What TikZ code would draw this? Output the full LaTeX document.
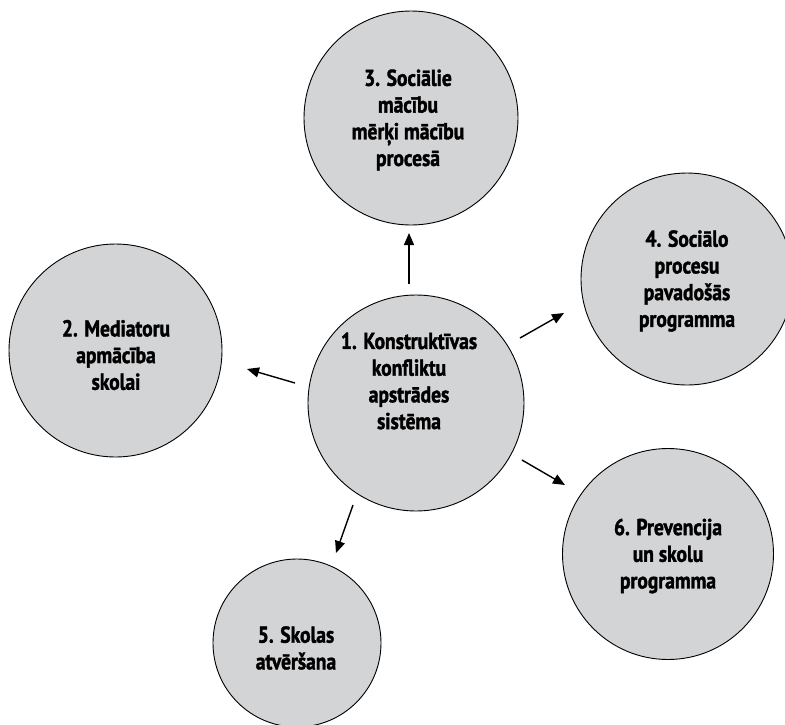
\documentclass[tikz,border=0pt]{standalone}
\usepackage{fontspec}
\newfontfamily\lblfont{PT Sans Bold}[FakeStretch=0.85, FakeBold=1.6]
\usetikzlibrary{arrows.meta}
\definecolor{discfill}{RGB}{211,212,214}
\tikzset{
  disc/.style={circle, draw=black, line width=0.9pt, fill=discfill, inner sep=0pt},
  lbl/.style={align=center, inner sep=0pt, font=\lblfont\fontsize{23}{26.7}\selectfont},
  link/.style={line width=1.4pt, -{Triangle[length=12pt,width=10pt]}}
}
\begin{document}
\begin{tikzpicture}[x=1pt,y=-1pt]
\useasboundingbox (0,0) rectangle (785,724);
\clip (0,0) rectangle (785,724);

% discs
\node[disc, minimum size=216pt] (c1) at (416,403) {};
\node[disc, minimum size=213pt] (c2) at (115.5,350.5) {};
\node[disc, minimum size=214pt] (c3) at (411,118) {};
\node[disc, minimum size=212pt] (c4) at (687,279) {};
\node[disc, minimum size=168pt] (c5) at (297,643) {};
\node[disc, minimum size=211pt] (c6) at (668,554) {};

% labels
\node[lbl] (t1) at (409,381) {1. Konstruktīvas\\konfliktu\\apstrādes\\sistēma};
\node[lbl] (t2) at (116,355) {2. Mediatoru\\apmācība\\skolai};
\node[lbl] (t3) at (408,120) {3. Sociālie\\mācību\\mērķi mācību\\procesā};
\node[lbl] (t4) at (687,281) {4. Sociālo\\procesu\\pavadošās\\programma};
\node[lbl] (t5) at (296,648) {5. Skolas\\atvēršana};
\node[lbl] (t6) at (668,556) {6. Prevencija\\un skolu\\programma};

% arrow ends
\coordinate (a3s) at (409,284); \coordinate (a3e) at (409,233);
\coordinate (a2s) at (295,383); \coordinate (a2e) at (247,369);
\coordinate (a4s) at (520,338); \coordinate (a4e) at (564,313);
\coordinate (a6s) at (522,460); \coordinate (a6e) at (565,485);
\coordinate (a5s) at (353,505); \coordinate (a5e) at (336,553);

\draw[link] (a3s) -- (a3e);
\draw[link] (a2s) -- (a2e);
\draw[link] (a4s) -- (a4e);
\draw[link] (a6s) -- (a6e);
\draw[link] (a5s) -- (a5e);
\end{tikzpicture}
\end{document}
